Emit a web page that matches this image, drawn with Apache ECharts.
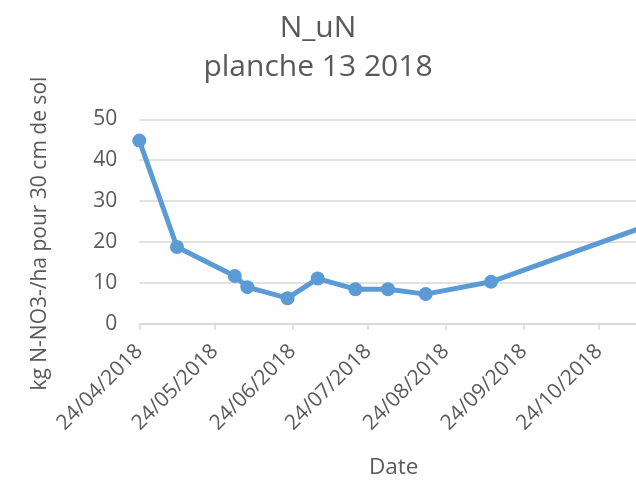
<!DOCTYPE html>
<html>
<head>
<meta charset="utf-8">
<script src="https://cdn.jsdelivr.net/npm/echarts@6/dist/echarts.min.js"></script>
<style>
  html, body { margin: 0; padding: 0; background: #fff; }
  #main { width: 636px; height: 483px; }
</style>
</head>
<body>
<div id="main"></div>
<script>
// dates des prélèvements et reliquats mesurés (kg N-NO3-/ha, 0-30 cm)
var dates = ['24/04/2018', '09/05/2018', '01/06/2018', '06/06/2018', '22/06/2018', '04/07/2018',
             '19/07/2018', '01/08/2018', '16/08/2018', '11/09/2018', '28/11/2018'];
var values = [44.8, 18.8, 11.7, 9.0, 6.3, 11.1, 8.5, 8.5, 7.3, 10.3, 27.5];
// graduations de l'axe des dates
var tickDates = ['24/04/2018', '24/05/2018', '24/06/2018', '24/07/2018', '24/08/2018', '24/09/2018', '24/10/2018'];
var axisStart = '24/04/2018';
var axisEndDays = 197.7; // le graphique est coupé à droite

function toTime(s) {
  var p = s.split('/');
  return Date.UTC(+p[2], +p[1] - 1, +p[0]);
}
function pad(n) { return (n < 10 ? '0' : '') + n; }
function fmt(v) {
  var d = new Date(v);
  return pad(d.getUTCDate()) + '/' + pad(d.getUTCMonth() + 1) + '/' + d.getUTCFullYear();
}

var grey = '#595959';
var font = 'Open Sans';
var minT = toTime(axisStart);
var maxT = minT + axisEndDays * 86400000;
var ticks = tickDates.map(toTime);

var myChart = echarts.init(document.getElementById('main'));

var option = {
  animation: false,
  title: {
    text: 'N_uN\nplanche 13 2018',
    left: 'center',
    top: 4,
    padding: [5, 0, 5, 48],
    textStyle: { color: grey, fontFamily: font, fontSize: 30, fontWeight: 'normal', lineHeight: 39 }
  },
  grid: { left: 139.3, top: 119.3, right: 0, bottom: 159 },
  xAxis: {
    type: 'value',
    min: minT,
    max: maxT,
    name: 'Date',
    nameLocation: 'middle',
    nameGap: 132,
    nameTextStyle: { color: grey, fontFamily: font, fontSize: 22.5, padding: [0, 0, 0, 12] },
    axisLine: { lineStyle: { color: '#D9D9D9', width: 1.5 } },
    axisTick: { show: true, length: 6, customValues: ticks, lineStyle: { color: '#D9D9D9', width: 1.5 } },
    axisLabel: {
      customValues: ticks,
      rotate: 45,
      margin: 24,
      color: grey,
      fontFamily: font,
      fontSize: 21,
      formatter: function (v) { return fmt(v); }
    },
    splitLine: { show: false }
  },
  yAxis: {
    type: 'value',
    min: 0,
    max: 50,
    interval: 10,
    name: 'kg N-NO3-/ha pour 30 cm de sol',
    nameLocation: 'middle',
    nameGap: 89,
    nameTextStyle: { color: grey, fontFamily: font, fontSize: 21, padding: [0, 24, 0, 0] },
    axisLine: { show: false },
    axisTick: { show: false },
    axisLabel: { color: grey, fontFamily: font, fontSize: 21, margin: 22 },
    splitLine: { lineStyle: { color: '#D9D9D9', width: 1.5 } }
  },
  series: [
    {
      type: 'line',
      data: dates.map(function (d, i) { return [toTime(d), values[i]]; }),
      symbol: 'circle',
      symbolSize: 14,
      itemStyle: { color: '#5B9BD5' },
      lineStyle: { color: '#5B9BD5', width: 5 },
      clip: true
    }
  ]
};

myChart.setOption(option);
</script>
</body>
</html>
